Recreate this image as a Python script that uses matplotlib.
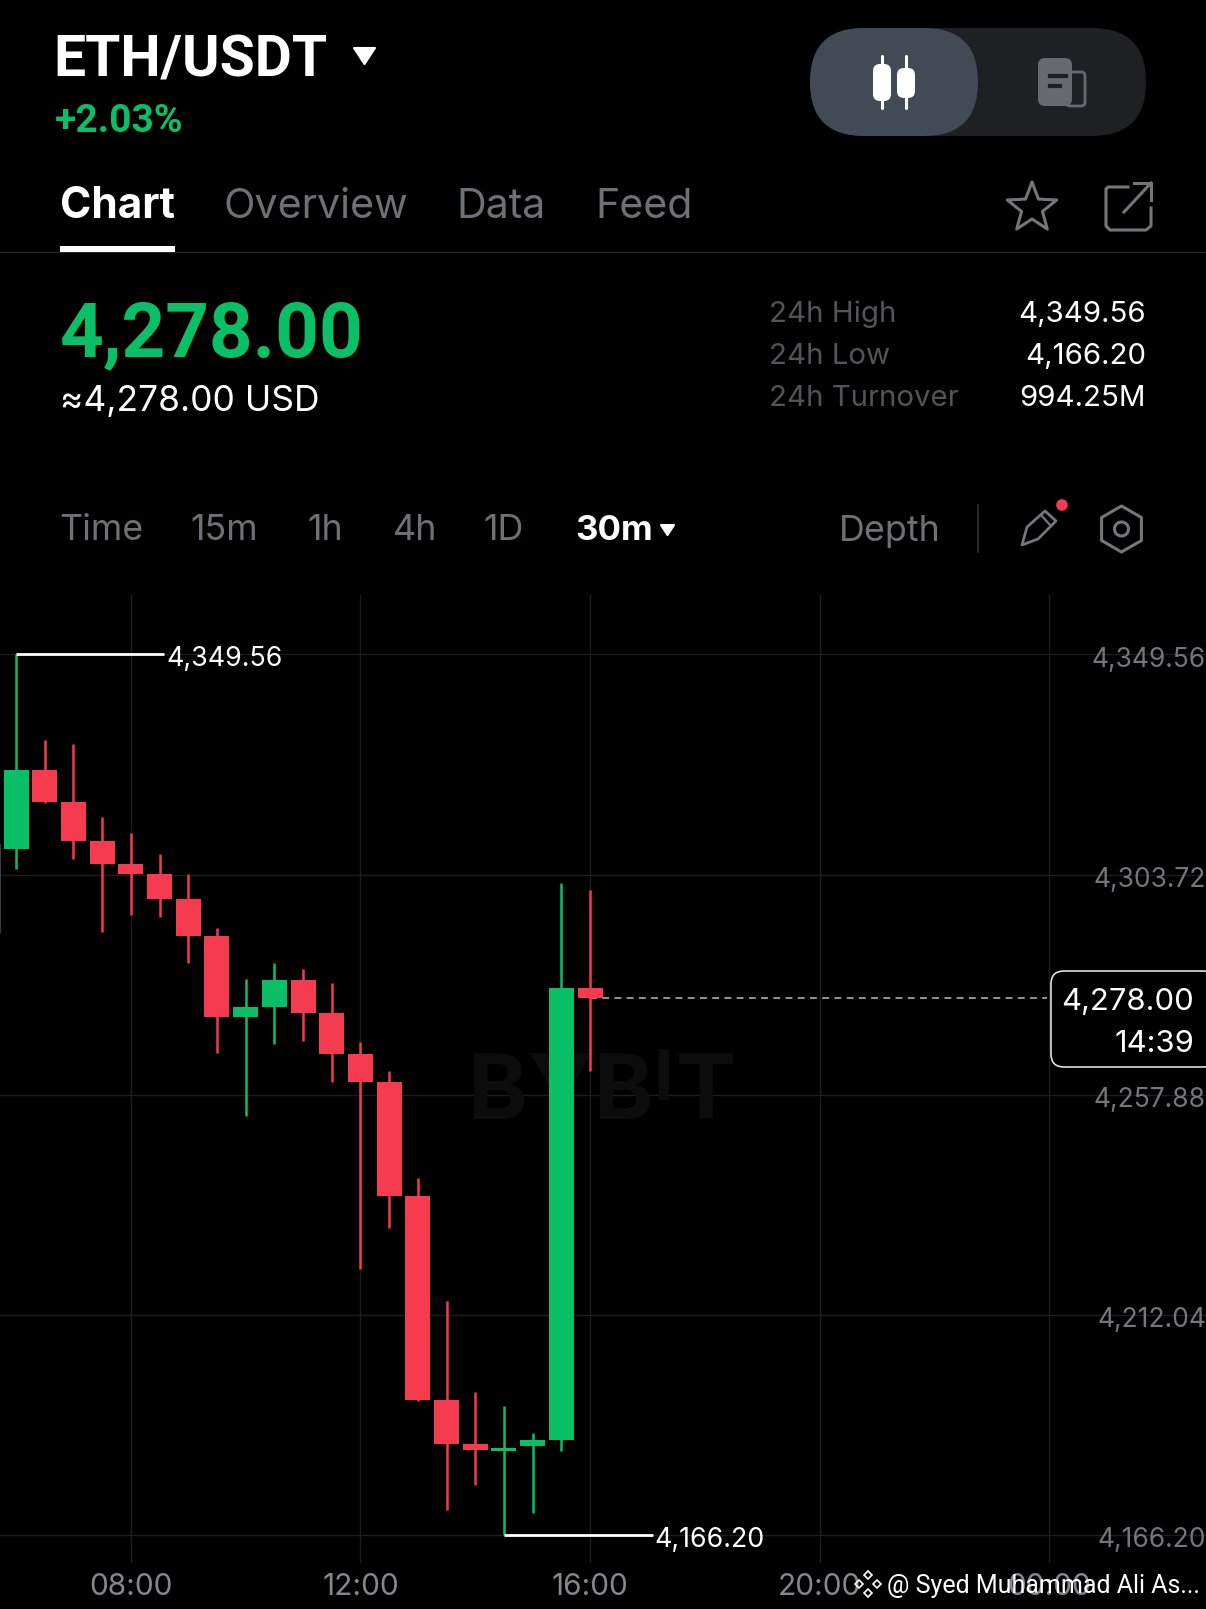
import math
import matplotlib
matplotlib.use("Agg")
import matplotlib.pyplot as plt
from matplotlib.patches import FancyBboxPatch, Polygon, Circle, Rectangle
from matplotlib.transforms import ScaledTranslation

# ---------- data ----------
hours  = [6.0, 6.5, 7.0, 7.5, 8.0, 8.5, 9.0, 9.5, 10.0, 10.5, 11.0, 11.5, 12.0, 12.5, 13.0, 13.5, 14.0, 14.5, 15.0, 15.5, 16.0]
opens  = [4309.14, 4325.53, 4318.87, 4310.67, 4305.95, 4303.80, 4298.66, 4290.88, 4274.00, 4276.20, 4281.71, 4274.84, 4266.30, 4260.40, 4236.71, 4194.15, 4185.09, 4183.60, 4184.57, 4185.98, 4280.00]
closes = [4325.53, 4318.87, 4310.67, 4305.95, 4303.80, 4298.66, 4290.88, 4274.00, 4276.20, 4281.71, 4274.84, 4266.30, 4260.40, 4236.71, 4194.15, 4185.09, 4183.83, 4184.20, 4185.91, 4280.00, 4278.00]
highs  = [4349.56, 4331.71, 4331.00, 4315.67, 4312.41, 4308.10, 4303.90, 4292.48, 4282.06, 4285.30, 4283.94, 4281.16, 4268.80, 4262.75, 4240.57, 4214.95, 4195.94, 4193.04, 4187.32, 4302.00, 4300.50]
lows   = [4304.77, 4318.66, 4306.99, 4291.85, 4295.20, 4294.77, 4285.30, 4266.64, 4253.50, 4268.38, 4269.07, 4260.46, 4221.50, 4230.00, 4194.10, 4171.28, 4176.55, 4166.20, 4170.76, 4183.70, 4262.85]
price_ticks  = [4349.56, 4303.72, 4257.88, 4212.04, 4166.20]
price_labels = ["4,349.56", "4,303.72", "4,257.88", "4,212.04", "4,166.20"]
time_ticks   = [8, 12, 16, 20, 24]
time_labels  = ["08:00", "12:00", "16:00", "20:00", "00:00"]
last_price = 4278.00
high_price, low_price = 4349.56, 4166.20
high_hour, low_hour = 6.0, 14.5

GREEN, RED = "#0ABF66", "#F53B50"
GRID, AXTXT, DIM, DIM2 = "#1d1d1d", "#747679", "#6d7075", "#515459"
W, H = 1206, 1609
plt.rcParams["font.family"] = ["Inter", "DejaVu Sans"]

fig = plt.figure(figsize=(W / 100, H / 100), dpi=100, facecolor="black")

# ---------- chart axes ----------
AX_TOP, AX_BOT = 595, 1563
ax = fig.add_axes([0, 1 - AX_BOT / H, 1, (AX_BOT - AX_TOP) / H], facecolor="black")
ui = fig.add_axes([0, 0, 1, 1], facecolor="none")
ui.set_zorder(5)
ui.set_xlim(0, W)
ui.set_ylim(H, 0)
ui.axis("off")

ax.set_xlim(5.72, 5.72 + W / 57.4)
ax.set_ylim(4349.56 - (AX_BOT - 654.5) / 4.8, 4349.56 + (654.5 - AX_TOP) / 4.8)
for s in ax.spines.values():
    s.set_visible(False)
ax.set_xticks(time_ticks, time_labels)
ax.set_yticks(price_ticks, price_labels)
ax.yaxis.tick_right()
ax.tick_params(axis="x", length=0, pad=7, labelsize=21.5, labelcolor="#85878a")
ax.tick_params(axis="y", length=0, pad=0, labelsize=19, labelcolor=AXTXT)
ax.grid(True, color=GRID, lw=1.0)
ax.set_axisbelow(True)
off = ScaledTranslation(0, -2.5 / 100, fig.dpi_scale_trans)
for lab in ax.get_yticklabels():
    lab.set_ha("right")
    lab.set_transform(lab.get_transform() + off)

# watermark, behind the candles
wm = dict(color="#0c0c0c", fontweight="bold", transform=ui.transData, zorder=1, va="baseline")
ax.text(468, 1119, "BYB", fontsize=65, **wm)
ax.text(653, 1100, "I", fontsize=50, **wm)
ax.text(676, 1119, "T", fontsize=65, **wm)

# candles
for h, o, c, hi, lo in zip(hours, opens, closes, highs, lows):
    col = GREEN if c >= o else RED
    ax.vlines(h, lo, hi, color=col, lw=1.8, zorder=3)
    ax.bar(h, abs(c - o), bottom=min(o, c), width=25 / 57.4, color=col, lw=0, zorder=4)

# high / low markers
ax.plot([high_hour, high_hour + 2.57], [high_price, high_price], color="white", lw=2.0, zorder=5, solid_capstyle="butt")
ax.plot([low_hour, low_hour + 2.60], [low_price, low_price], color="white", lw=2.0, zorder=5, solid_capstyle="butt")
lab_off = ScaledTranslation(0, -2 / 100, fig.dpi_scale_trans)
ax.text(high_hour + 2.61, high_price, "4,349.56", color="white", fontsize=19.3, va="center_baseline", ha="left", zorder=6,
        transform=ax.transData + lab_off)
ax.text(low_hour + 2.62, low_price, "4,166.20", color="white", fontsize=19.3, va="center_baseline", ha="left", zorder=6,
        transform=ax.transData + lab_off)

# last price line
ax.plot([hours[-1], 23.96], [last_price, last_price], color="#bdbdbd", lw=1.1, ls=(0, (4.5, 3.5)), zorder=2)


# ---------- UI overlay ----------
def t(x, y, s, size, color="white", weight="normal", ha="left", **kw):
    return ui.text(x, y, s, fontsize=size, color=color, fontweight=weight, ha=ha, va="baseline", **kw)


def rbox(x0, y0, x1, y1, r, **kw):
    p = FancyBboxPatch((x0 + r, y0 + r), x1 - x0 - 2 * r, y1 - y0 - 2 * r,
                       boxstyle=f"round,pad={r},rounding_size={r}", **kw)
    ui.add_patch(p)
    return p


def tri(x0, x1, y0, y1, color="white"):
    ui.add_patch(Polygon([(x0, y0), (x1, y0), ((x0 + x1) / 2, y1)], closed=True, fc=color, ec=color, lw=1.5, joinstyle="round"))


ROB = ["Roboto", "DejaVu Sans"]

# header
t(53.5, 76, "ETH/USDT", 41, weight="bold", family=ROB)
tri(354, 375, 48, 64)
t(55, 132, "+2.03%", 28, GREEN, "bold", family=ROB)

# toggle
rbox(810, 28, 1146, 136, 54, fc="#1e2024", ec="none")
rbox(810, 28, 978, 136, 54, fc="#414a55", ec="none")
ui.plot([882, 882], [56, 108], color="white", lw=2.2, solid_capstyle="round")
ui.plot([906, 906], [56, 108], color="white", lw=2.2, solid_capstyle="round")
rbox(873, 64, 891, 101, 7, fc="white", ec="none")
rbox(897, 68, 915, 98, 7, fc="white", ec="none")
rbox(1066, 72, 1085, 106, 4, fc="#1e2024", ec="#66696e", lw=2)
rbox(1038, 58, 1072, 106, 7, fc="#66696e", ec="none")
ui.plot([1050, 1066], [76, 76], color="#1e2024", lw=3)
ui.plot([1050, 1060], [86, 86], color="#1e2024", lw=3)

# tabs
t(60, 217.5, "Chart", 30.5, weight="bold")
t(223.5, 217.5, "Overview", 29.6, DIM)
t(456, 217.5, "Data", 29.6, DIM)
t(595.5, 217.5, "Feed", 29.6, DIM)
ui.add_patch(Rectangle((60, 246), 115, 5.5, fc="white", ec="none"))
ui.add_patch(Rectangle((0, 251.5), W, 1.6, fc="#26282b", ec="none"))

# star + share
star = []
for i in range(10):
    r = 26 if i % 2 == 0 else 11
    a = -math.pi / 2 + i * math.pi / 5
    star.append((1032 + r * math.cos(a), 208 + r * math.sin(a)))
ui.add_patch(Polygon(star, closed=True, fc="none", ec="#74767a", lw=2.2, joinstyle="round"))
ui.plot([1128, 1108, 1106, 1106, 1110, 1146, 1151, 1151], [187, 187, 189, 226, 230, 230, 226, 208], color="#74767a", lw=2.2)
ui.plot([1124, 1151, 1151], [212, 183, 183], color="#74767a", lw=2.2)
ui.plot([1134, 1151, 1151], [183, 183, 200], color="#74767a", lw=2.2)

# price block
t(60, 356, "4,278.00", 55, GREEN, "bold", family=ROB)
t(60, 411, "≈4,278.00 USD", 25.5)
for y, lab, val in [(322, "24h High", "4,349.56"), (363.5, "24h Low", "4,166.20"), (405.5, "24h Turnover", "994.25M")]:
    t(769, y, lab, 21.2, DIM2)
    t(1146, y, val, 21.2, ha="right")

# interval row
for x, s in [(59.5, "Time"), (190.5, "15m"), (307, "1h"), (392.5, "4h"), (483.5, "1D"), (838.5, "Depth")]:
    t(x, 540.5, s, 25.8, DIM)
t(575, 540.5, "30m", 25, weight="bold")
tri(661, 674, 525, 535)
ui.plot([977.5, 977.5], [505, 552], color="#303236", lw=1.2)

# pencil
ui.add_patch(Polygon([(1022, 545), (1027, 527), (1045, 511), (1056, 521), (1038, 539)], closed=True, fc="none", ec="#74767a", lw=2, joinstyle="round"))
ui.plot([1041, 1051], [515, 526], color="#74767a", lw=1.6)
ui.add_patch(Circle((1062, 505), 5.8, fc=RED, ec="none"))
# hexagon, point up
hexa = [(1121.5 + 23 * math.cos(math.pi / 3 * i + math.pi / 6), 529 + 23 * math.sin(math.pi / 3 * i + math.pi / 6)) for i in range(6)]
ui.add_patch(Polygon(hexa, closed=True, fc="none", ec="#74767a", lw=2.2, joinstyle="round"))
ui.add_patch(Circle((1121.5, 529), 7, fc="none", ec="#74767a", lw=2.2))

# small stray wick on left edge
ui.plot([0, 0], [845, 932], color="#4a4a4a", lw=1.2)

# last price box
rbox(1051, 971, 1216, 1067, 13, fc="black", ec="#e0e0e0", lw=1.2)
t(1194, 1010, "4,278.00", 22.3, ha="right")
t(1194, 1052, "14:39", 22.3, ha="right")

# repost mark and attribution
for dx, dy in [(0, -9), (0, 9), (-9, 0), (9, 0)]:
    ui.add_patch(Polygon([(868 + dx, 1584 + dy - 4), (868 + dx + 4, 1584 + dy), (868 + dx, 1584 + dy + 4), (868 + dx - 4, 1584 + dy)],
                         closed=True, fc="none", ec="white", lw=1.2))
t(887, 1593, "@ Syed Muhammad Ali As...", 18, "white", family=ROB)

fig.savefig("out.png", dpi=100, facecolor="black")
